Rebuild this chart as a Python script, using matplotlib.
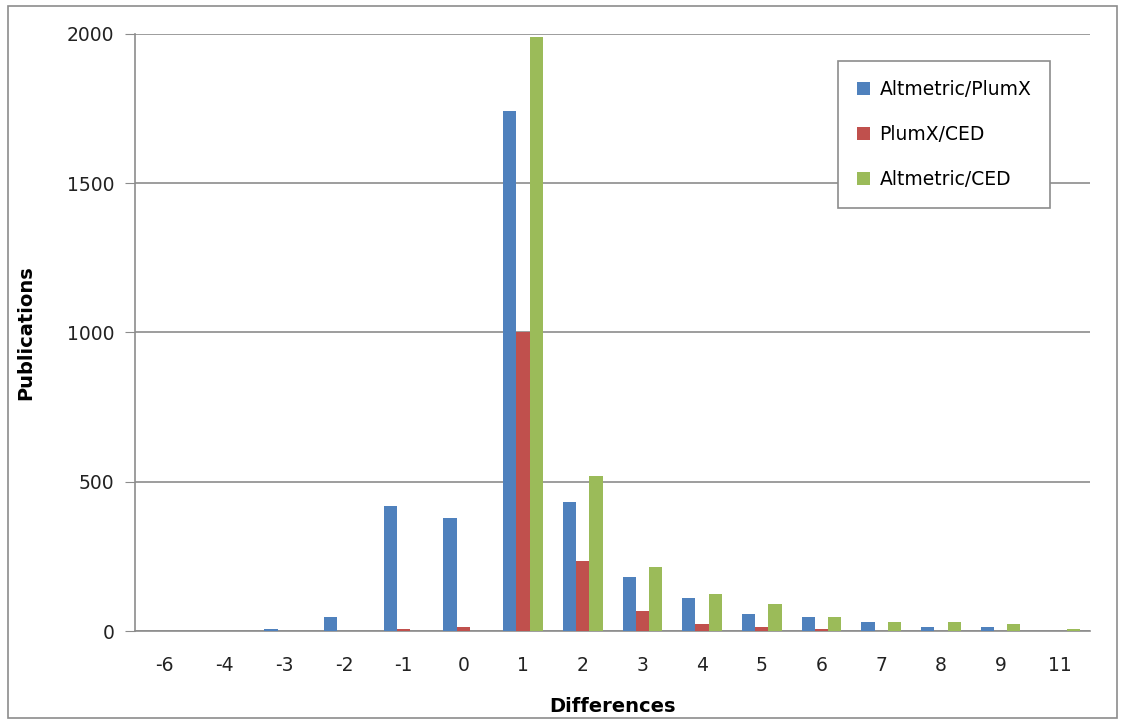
import matplotlib
matplotlib.use("Agg")
import matplotlib.pyplot as plt
from matplotlib.patches import Rectangle
import numpy as np

categories = ["-6", "-4", "-3", "-2", "-1", "0", "1", "2", "3", "4", "5", "6", "7", "8", "9", "11"]
altmetric_plumx = [0, 0, 8, 48, 419, 380, 1742, 432, 182, 109, 56, 48, 29, 15, 15, 0]
plumx_ced = [0, 0, 0, 0, 7, 12, 1000, 236, 68, 22, 15, 8, 0, 0, 0, 0]
altmetric_ced = [0, 0, 0, 0, 0, 0, 1990, 519, 216, 123, 89, 48, 29, 29, 22, 8]
series_names = ["Altmetric/PlumX", "PlumX/CED", "Altmetric/CED"]
colors = ["#4F81BD", "#C0504D", "#9BBB59"]

plt.rcParams['font.family'] = ['DejaVu Sans']

fig = plt.figure(figsize=(11.25, 7.22), dpi=100)
fig.patch.set_facecolor("white")
fig.patches.append(Rectangle((0.007, 0.006), 0.986, 0.986, transform=fig.transFigure,
                             fill=False, edgecolor="#8c8c8c", linewidth=1.2))
ax = fig.add_axes([0.12, 0.126, 0.849, 0.827])

x = np.arange(len(categories))
w = 1 / 4.5
data = [altmetric_plumx, plumx_ced, altmetric_ced]
for i, (vals, name, c) in enumerate(zip(data, series_names, colors)):
    ax.bar(x + (i - 1) * w, vals, width=w, color=c, label=name, zorder=3)

ax.set_xlim(-0.5, len(categories) - 0.5)
ax.set_ylim(0, 2000)
ax.set_yticks([0, 500, 1000, 1500, 2000])
ax.set_xticks(x)
ax.set_xticklabels(categories)
ax.yaxis.grid(True, color="#8c8c8c", linewidth=1.2, zorder=0)
ax.set_axisbelow(True)
for s in ["top", "right"]:
    ax.spines[s].set_visible(False)
for s in ["left", "bottom"]:
    ax.spines[s].set_color("#8c8c8c")
    ax.spines[s].set_linewidth(1.2)
ax.tick_params(axis="y", length=7, color="#8c8c8c", labelsize=13.5, pad=8, labelcolor="#222222")
ax.tick_params(axis="x", length=0, labelsize=13.5, pad=18, labelcolor="#222222")

ax.set_ylabel("Publications", fontsize=14, fontweight="bold")
ax.yaxis.set_label_coords(-0.104, 0.5)
ax.set_xlabel("Differences", fontsize=14, fontweight="bold", labelpad=16)

leg = ax.legend(loc="upper right", bbox_to_anchor=(0.968, 0.97), fontsize=13.5,
                handlelength=0.7, handleheight=0.7, labelspacing=1.4,
                borderpad=1.0, handletextpad=0.5, borderaxespad=0.5,
                fancybox=False, framealpha=1, edgecolor="#8c8c8c")
leg.get_frame().set_linewidth(1.2)

fig.savefig("out.png", dpi=100)
